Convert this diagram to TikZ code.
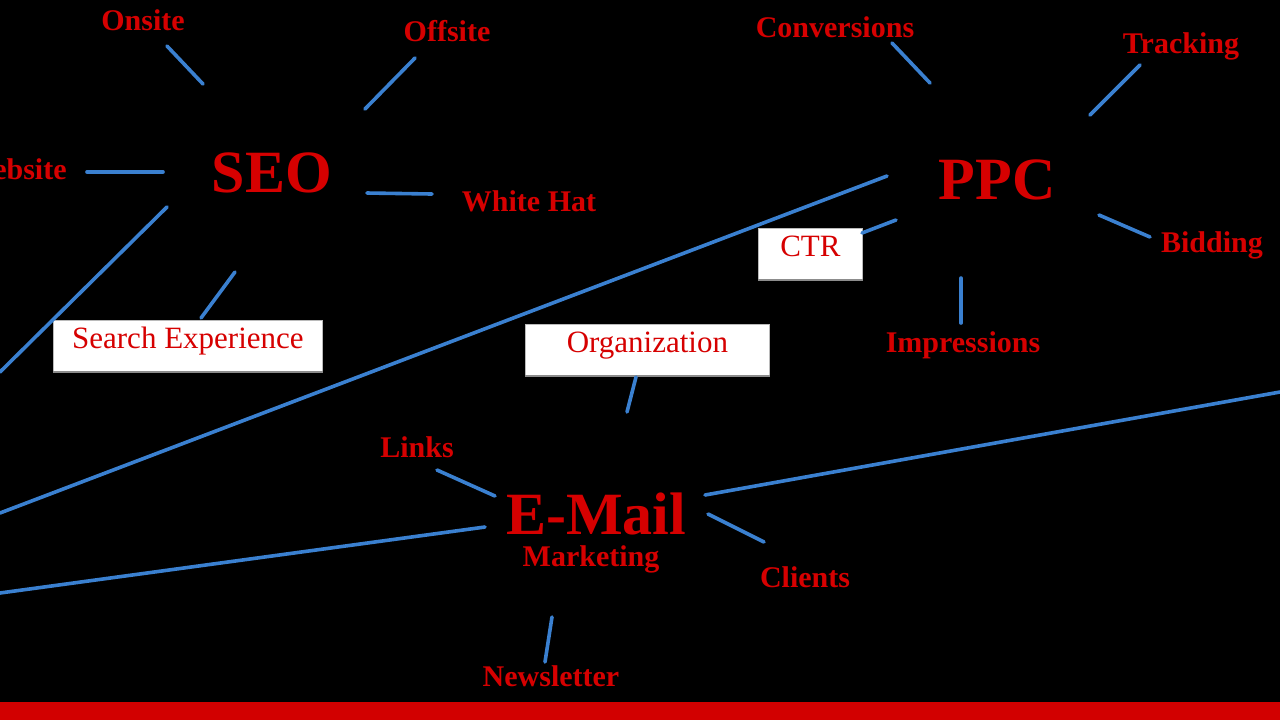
\documentclass[tikz,border=0pt]{standalone}
\usepackage{fontspec}
\setmainfont{Liberation Serif}
\definecolor{lblred}{RGB}{214,0,0}
\definecolor{barred}{RGB}{210,0,0}
\definecolor{lineblue}{RGB}{58,128,208}
\definecolor{boxgray}{RGB}{140,140,140}
\begin{document}
\begin{tikzpicture}[x=0.5pt,y=-0.5pt,
  lbl/.style={text=lblred,font=\bfseries\fontsize{15}{18}\selectfont,inner sep=0pt,anchor=base},
  big/.style={text=lblred,font=\bfseries\fontsize{30}{36}\selectfont,inner sep=0pt,anchor=base},
  boxlbl/.style={fill=white,draw=boxgray!60,line width=0.4pt,text=lblred,font=\fontsize{15.5}{18}\selectfont,
    inner sep=0pt,text height=14pt,text depth=12pt,anchor=north west},
  conn/.style={draw=lineblue,line width=1.8pt,line cap=round}]
\useasboundingbox (0,0) rectangle (1280,720);
\fill[black] (0,0) rectangle (1280,720);
\fill[barred] (0,702) rectangle (1280,720);

% SEO cluster
\node[big] (seo) at (272,192) {SEO};
\node[lbl] (onsite) at (143,30) {Onsite};
\node[lbl] (offsite) at (447,41) {Offsite};
\node[lbl,anchor=base east] (website) at (67,179) {Website};
\node[lbl] (whitehat) at (529,211) {White Hat};
\node[boxlbl,minimum width=134.5pt] (search) at (53,320) {Search Experience};

% PPC cluster
\node[big] (ppc) at (997,199) {PPC};
\node[lbl] (conv) at (835,37) {Conversions};
\node[lbl] (track) at (1181,53) {Tracking};
\node[lbl] (bid) at (1212,252) {Bidding};
\node[lbl] (impr) at (963,352) {Impressions};
\node[boxlbl,minimum width=52pt] (ctr) at (758,228) {CTR};

% E-Mail cluster
\node[big] (email) at (596,534) {E-Mail};
\node[lbl] (mkt) at (591,566) {Marketing};
\node[lbl] (links) at (417,457) {Links};
\node[lbl] (clients) at (805,587) {Clients};
\node[lbl] (news) at (551,686) {Newsletter};
\node[boxlbl,minimum width=122pt] (org) at (525,324) {Organization};

% box bottom shadows
\foreach \b in {search,ctr,org}{
  \draw[boxgray,line width=1pt] ([yshift=0.5pt]\b.south west) -- ([yshift=0.5pt]\b.south east);
}

% connector end points
\coordinate (onA) at (167,46);   \coordinate (onB) at (203,84);
\coordinate (ofA) at (415,58);   \coordinate (ofB) at (365,109);
\coordinate (wbA) at (87,172);   \coordinate (wbB) at (163,172);
\coordinate (whA) at (367,193);  \coordinate (whB) at (432,194);
\coordinate (slA) at (167,207);  \coordinate (slB) at (0,372);
\coordinate (seA) at (235,272);  \coordinate (seB) at (201,318);
\coordinate (plA) at (887,176);  \coordinate (plB) at (0,513);
\coordinate (ctA) at (896,220);  \coordinate (ctB) at (862,233);
\coordinate (cvA) at (892,43);   \coordinate (cvB) at (930,83);
\coordinate (trA) at (1140,65);  \coordinate (trB) at (1090,115);
\coordinate (biA) at (1099,215); \coordinate (biB) at (1150,237);
\coordinate (imA) at (961,278);  \coordinate (imB) at (961,323);
\coordinate (ogA) at (636,377);  \coordinate (ogB) at (627,412);
\coordinate (lkA) at (437,470);  \coordinate (lkB) at (495,496);
\coordinate (elA) at (485,527);  \coordinate (elB) at (0,593);
\coordinate (erA) at (705,495);  \coordinate (erB) at (1280,392);
\coordinate (clA) at (708,514);  \coordinate (clB) at (764,542);
\coordinate (nwA) at (552,617);  \coordinate (nwB) at (545,662);

\foreach \p in {on,of,wb,wh,sl,se,pl,ct,cv,tr,bi,im,og,lk,el,er,cl,nw}{
  \draw[conn] (\p A) -- (\p B);
}
\end{tikzpicture}
\end{document}
